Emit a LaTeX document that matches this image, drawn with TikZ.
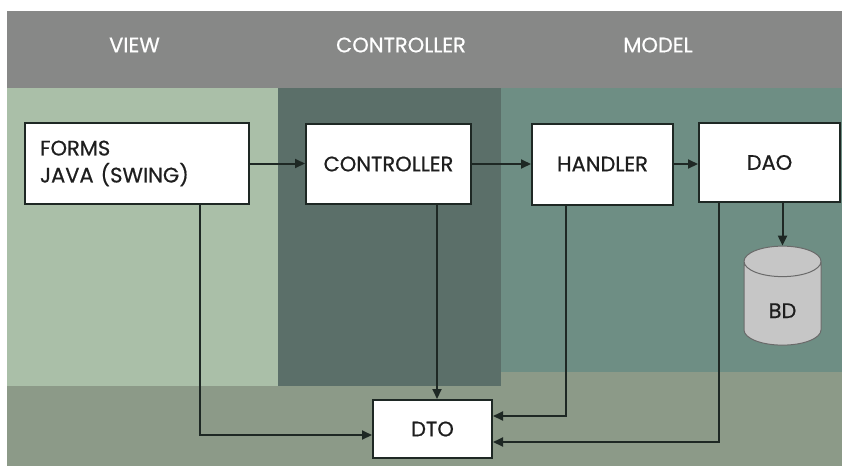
\documentclass[tikz,border=0pt]{standalone}
\usepackage{fontspec}
\setmainfont{Poppins}
\newfontfamily\boxfont{Poppins}[RawFeature={embolden=0.6}]
\usetikzlibrary{arrows.meta,shapes.geometric}

\definecolor{headgray}{HTML}{878887}
\definecolor{viewgreen}{HTML}{AABFA8}
\definecolor{ctrlgreen}{HTML}{5B6F69}
\definecolor{modelgreen}{HTML}{6E8E84}
\definecolor{bandgreen}{HTML}{8C9A88}
\definecolor{boxline}{HTML}{1E2824}
\definecolor{textdark}{HTML}{1E1E1E}
\definecolor{dbgray}{HTML}{C6C6C6}
\definecolor{dbline}{HTML}{6A6A6A}

\begin{document}
\begin{tikzpicture}[%
  x = 1pt, y = -1pt,
  lane/.style = {text = white, font = \boxfont\fontsize{21}{24}\selectfont, inner sep = 0pt},
  box/.style = {draw = boxline, line width = 2pt, fill = white, text = textdark,
    font = \boxfont\fontsize{21}{27}\selectfont, inner sep = 0pt},
  db/.style = {cylinder, shape border rotate = 90, aspect = 1.1, draw = dbline,
    line width = 1pt, fill = dbgray, text = textdark, font = \boxfont\fontsize{21}{24}\selectfont,
    inner sep = 0pt},
  link/.style = {draw = boxline, line width = 2pt, -{Triangle[length = 10pt, width = 9pt]}}]
  \useasboundingbox (0, 0) rectangle (842, 466);

  % lanes
  \fill[bandgreen]  (7, 88)   rectangle (842, 466);
  \fill[headgray]   (7, 11)   rectangle (842, 88);
  \fill[viewgreen]  (7, 88)   rectangle (278, 386);
  \fill[ctrlgreen]  (278, 88) rectangle (501, 386);
  \fill[modelgreen] (501, 88) rectangle (842, 372);

  \node[lane] (hview)  at (134.5, 45) {VIEW};
  \node[lane] (hctrl)  at (401, 45)   {CONTROLLER};
  \node[lane] (hmodel) at (658, 45)   {MODEL};

  % boxes
  \node[box, text width = 194pt, inner xsep = 15pt, minimum height = 81pt, align = left]
    (forms) at (137, 163.5) {FORMS\\JAVA (SWING)};
  \node[box, minimum width = 165pt, minimum height = 80pt] (ctrl)    at (388.5, 164) {CONTROLLER};
  \node[box, minimum width = 141pt, minimum height = 81pt] (handler) at (602.5, 164) {HANDLER};
  \node[box, minimum width = 141pt, minimum height = 79pt] (dao)     at (769.5, 162.5) {DAO};
  \node[box, minimum width = 119pt, minimum height = 58pt] (dto)     at (432.5, 429) {DTO};
  \node[db, minimum width = 77pt, minimum height = 99pt]   (bd)      at (782.5, 303.5)
    {\raisebox{-7pt}[15pt][0pt]{BD}};

  \draw[link] (forms.east) -- (forms.east -| ctrl.west);
  \draw[link] (ctrl) -- (handler);
  \draw[link] (handler.east) -- (handler.east -| dao.west);
  \draw[link] (bd.north |- dao.south) -- (bd.north);
  \draw[link] ([xshift = 63pt]forms.south) |- ([yshift = -6pt]dto.west);
  \draw[link] ([xshift = 48.5pt]ctrl.south) -- ([xshift = 4.5pt]dto.north);
  \draw[link] ([xshift = -36.5pt]handler.south) |- ([yshift = 13pt]dto.east);
  \draw[link] ([xshift = -50.5pt]dao.south) |- ([yshift = -13pt]dto.east);
\end{tikzpicture}
\end{document}
